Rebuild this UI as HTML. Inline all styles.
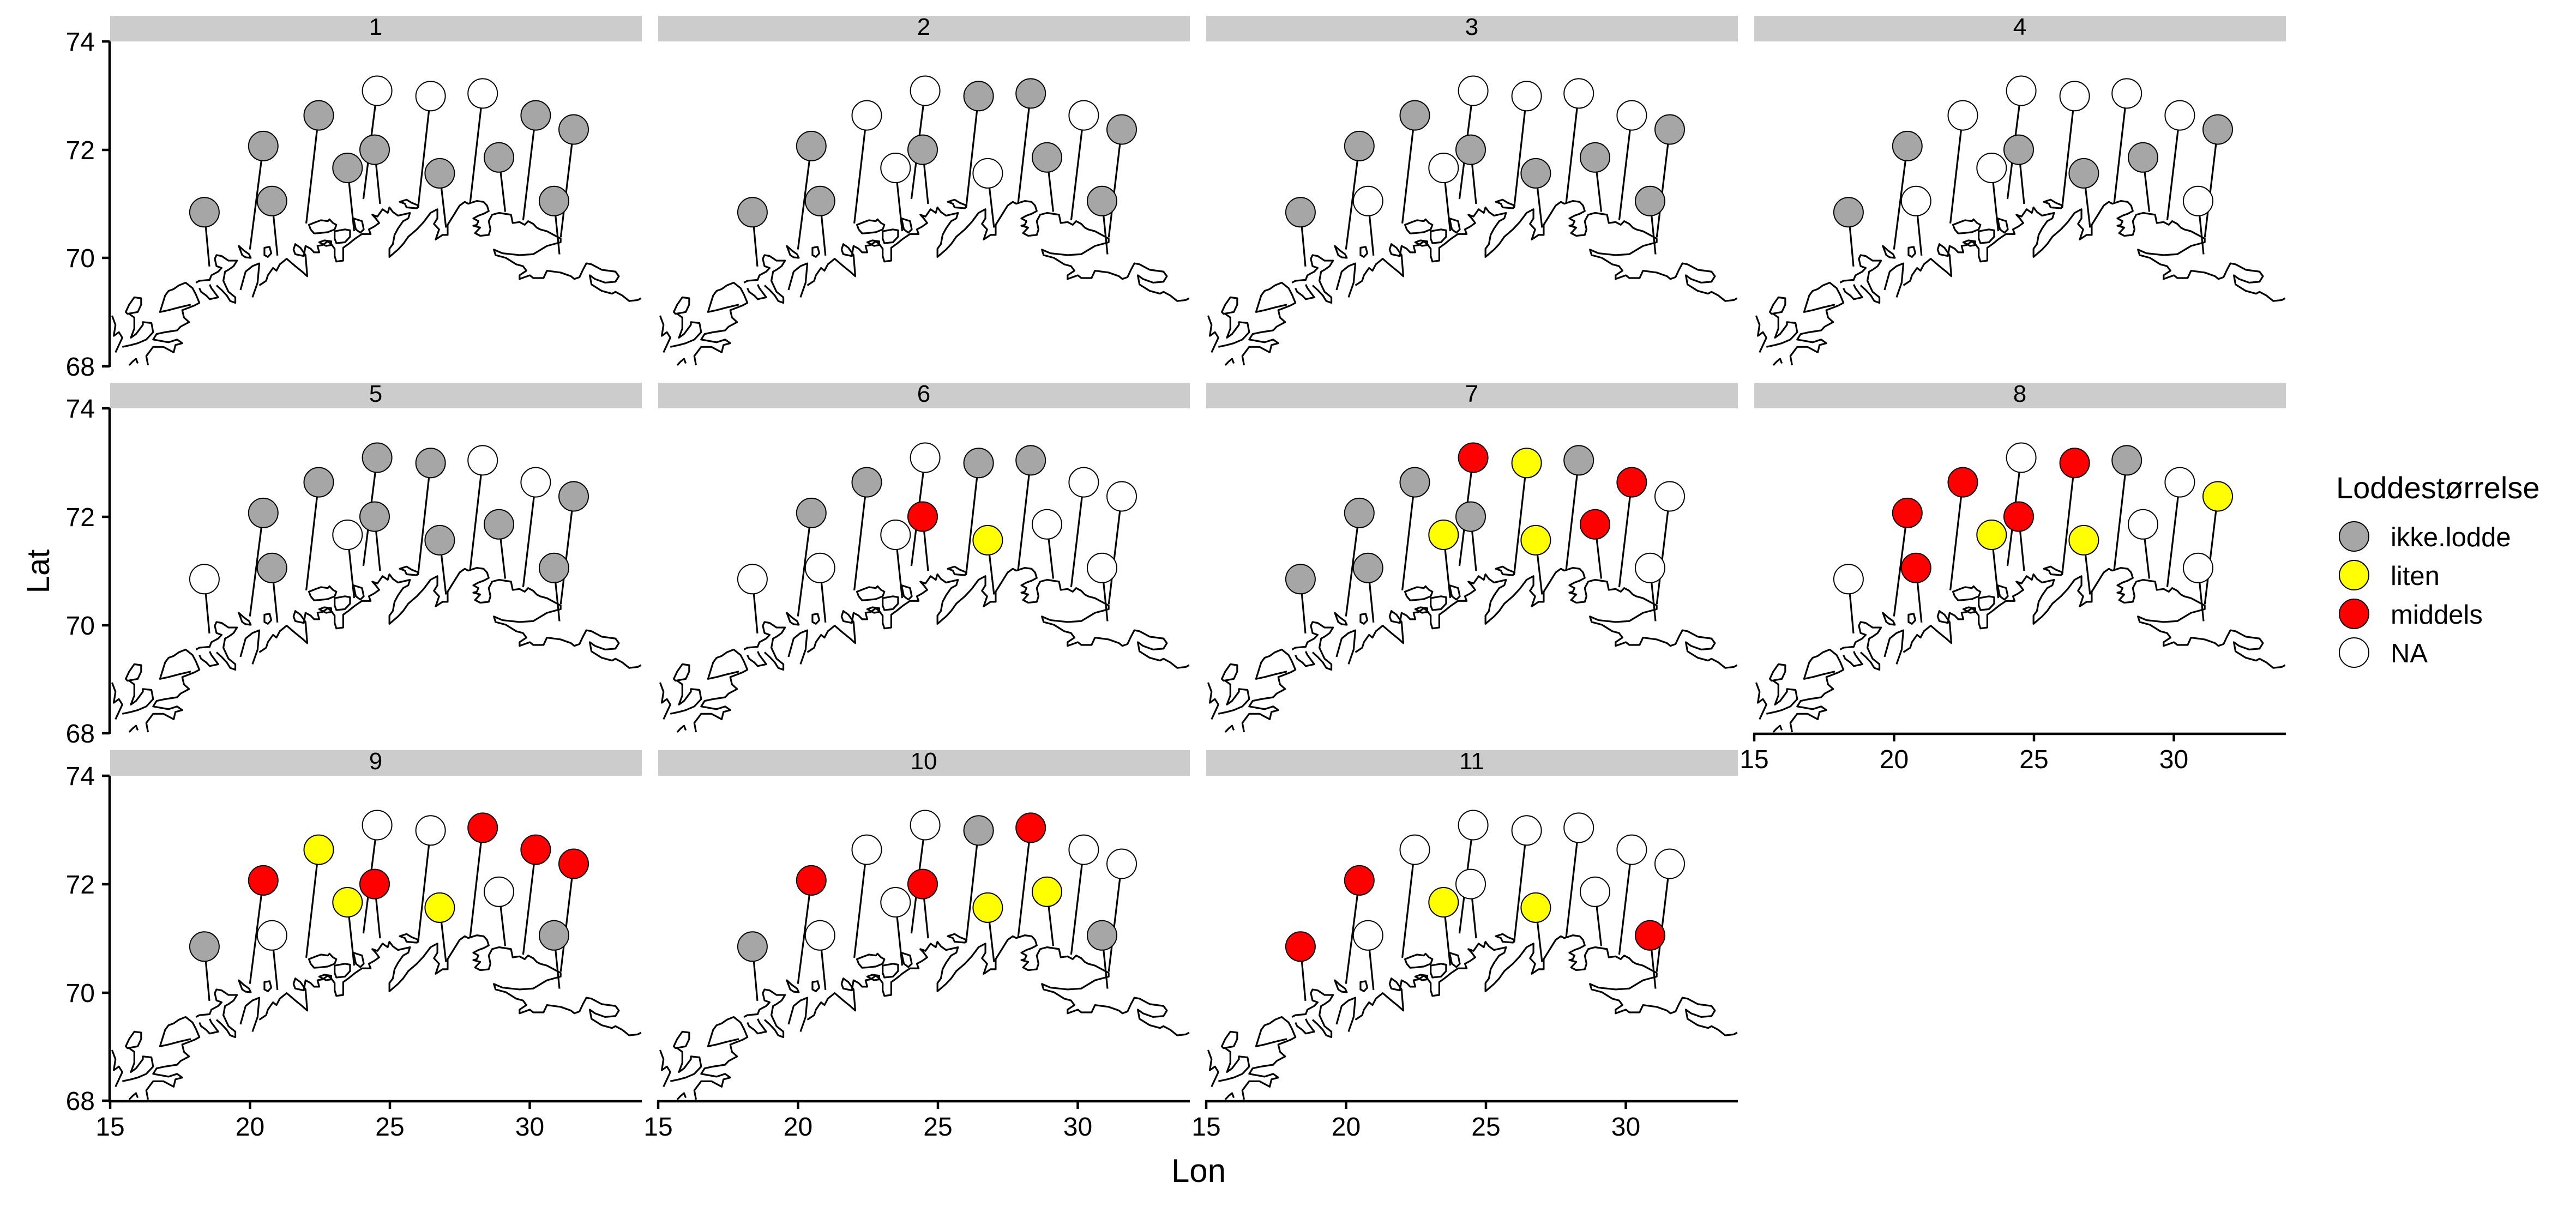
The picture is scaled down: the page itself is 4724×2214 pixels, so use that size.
<!DOCTYPE html>
<html><head><meta charset="utf-8"><style>
html,body{margin:0;padding:0;background:#fff;}
svg{display:block;font-family:"Liberation Sans",Arial,sans-serif;}
</style></head><body>
<svg width="4724" height="2214" viewBox="0 0 4724 2214" xmlns="http://www.w3.org/2000/svg">
<defs>
<clipPath id="pc"><rect x="0" y="0" width="975" height="597"/></clipPath>
<g id="coast" fill="none" stroke="#000" stroke-width="3.2" stroke-linejoin="round">
 <g transform="translate(-2.8,264) scale(0.628,0.3367)">
  <path vector-effect="non-scaling-stroke" d="M10,710 L20,760 L15,820 L30,800 L40,830 L20,910"/>
  <path vector-effect="non-scaling-stroke" d="M50,690 L60,650 L75,610 L95,615 L95,650 L85,690 L55,700 Z"/>
  <path vector-effect="non-scaling-stroke" d="M60,700 L75,720 L75,780 L65,830 L80,810 L100,760 L100,745 L125,750 L130,800 L110,840 L85,860 L65,870 L40,880"/>
  <path vector-effect="non-scaling-stroke" d="M115,980 L110,930 L130,880 L160,880 L190,910 L195,870 L215,860 L200,840 L175,855 L130,840 L140,810 L165,800 L200,790 L210,770 L235,745 L220,720 L215,680 L250,655 L265,640 L255,595 L245,560 L225,530 L205,545 L190,565 L175,575 L165,600 L160,630 L150,690 L175,680 L205,665 L240,650"/>
  <path vector-effect="non-scaling-stroke" d="M60,980 L70,960 L80,945 L85,970"/>
  <path vector-effect="non-scaling-stroke" d="M255,530 L265,520 L295,515 L300,490 L320,470 L330,450 L315,440 L310,400 L315,380 L330,385 L350,410 L375,410 L365,440 L350,460 L340,470 L335,520 L350,580 L370,610 L370,640 L355,630 L345,600 L330,570 L315,545"/>
  <path vector-effect="non-scaling-stroke" d="M265,560 L270,580 L285,600 L295,620 L320,610 L300,560 L295,540"/>
  <path vector-effect="non-scaling-stroke" d="M385,570 L400,470 L420,440 L440,425 L435,530 L420,610"/>
  <path vector-effect="non-scaling-stroke" d="M440,545 L460,520 L465,490 L480,450 L490,465 L500,430 L520,400 L545,440 L565,470 L580,495 L575,380 L560,340 L545,320 L540,350 L545,375 L570,385 L575,330 L590,345 L600,365 L615,365 L610,330 L625,325 L640,305 L650,320 L660,345 L660,385 L665,415 L685,410 L685,340 L700,320 L720,290 L740,265 L765,265 L760,240 L775,225 L790,205 L780,180 L770,160 L785,170 L800,130 L815,150 L820,120 L830,145 L845,165 L880,150 L875,180 L860,195 L845,235 L835,270 L830,320 L820,345 L820,390 L845,350 L860,320 L875,280 L900,240 L920,200 L940,150 L960,130 L960,180 L950,210 L965,240 L955,295 L975,270 L990,270 L990,215 L1005,170 L1025,110 L1040,90 L1050,100 L1075,85 L1095,90 L1105,110 L1110,140 L1095,155 L1080,165 L1065,180 L1080,195 L1075,215 L1065,220 L1085,230 L1070,260 L1085,275 L1110,270 L1115,240 L1110,195 L1120,160 L1140,150 L1175,160 L1180,205 L1200,200 L1215,215 L1225,195 L1240,210 L1250,230 L1260,240 L1280,250 L1300,270 L1320,290 L1320,310 L1280,330 L1240,375 L1200,380 L1150,370 L1125,350 L1130,380 L1160,395 L1190,430 L1210,440 L1220,465 L1200,490 L1200,510 L1230,490 L1240,505 L1270,505 L1280,465 L1320,475 L1350,495 L1360,510 L1375,500 L1385,460 L1395,425 L1410,430 L1440,460 L1480,470 L1490,495 L1480,525 L1450,530 L1420,510 L1405,490 L1410,540 L1440,575 L1470,590 L1480,580 L1500,600 L1520,630 L1545,625 L1555,615"/>
  <path vector-effect="non-scaling-stroke" d="M585,215 L605,200 L620,190 L640,195 L645,185 L655,205 L665,215 L660,240 L640,255 L615,260 L600,262 L590,240 Z"/>
  <path vector-effect="non-scaling-stroke" d="M660,250 L690,240 L705,245 L705,280 L690,310 L665,315 L660,290 Z"/>
  <path vector-effect="non-scaling-stroke" d="M615,310 L630,300 L650,305 L650,325 L635,330 Z"/>
  <path vector-effect="non-scaling-stroke" d="M380,330 L395,355 L410,375 L415,395 L400,392 L390,380 Z"/>
  <path vector-effect="non-scaling-stroke" d="M455,340 L470,335 L475,370 L465,390 L455,380 Z"/>
  <path vector-effect="non-scaling-stroke" d="M715,180 L740,195 L745,240 L735,258 L722,240 Z"/>
  <path vector-effect="non-scaling-stroke" d="M850,90 L870,78 L885,95 L905,110 L900,125 L870,120 L865,100 Z"/>
 </g>
</g>
<g id="sticks" stroke="#000" stroke-width="3.2">
 <line x1="172.9" y1="313.3" x2="182" y2="412.8"/>
 <line x1="280.8" y1="191.9" x2="256.3" y2="381.6"/>
 <line x1="296.8" y1="292.8" x2="306.8" y2="392.8"/>
 <line x1="382.5" y1="135.6" x2="359.6" y2="333.8"/>
 <line x1="435.3" y1="232" x2="447.5" y2="348.1"/>
 <line x1="489.6" y1="90.5" x2="464.4" y2="289.2"/>
 <line x1="485" y1="198.6" x2="495" y2="298.1"/>
 <line x1="587.6" y1="100.3" x2="564.6" y2="305.7"/>
 <line x1="604.4" y1="241.9" x2="615.9" y2="341.4"/>
 <line x1="683.2" y1="95.4" x2="660.2" y2="295.4"/>
 <line x1="713" y1="212.8" x2="724.5" y2="312.4"/>
 <line x1="780.4" y1="135.6" x2="757.4" y2="328"/>
 <line x1="814" y1="292.8" x2="824" y2="390.5"/>
 <line x1="850" y1="161.5" x2="826.3" y2="359.3"/>
</g>
</defs>

<g font-size="48" fill="#000">
<!-- Panels -->
<g id="panels"></g>
</g>

<!-- Panel generation inline -->
<g font-size="44" text-anchor="middle">
<!-- row/col placements -->
<!-- P1 -->
<g transform="translate(202,76)">
<rect x="0" y="-47" width="975" height="47" fill="#cccccc"/><text x="487" y="-12">1</text>
<g clip-path="url(#pc)"><use href="#coast"/></g><use href="#sticks"/>
<g stroke="#000" stroke-width="2">
<circle cx="172.9" cy="313.3" r="27" fill="#a6a6a6"/><circle cx="280.8" cy="191.9" r="27" fill="#a6a6a6"/><circle cx="296.8" cy="292.8" r="27" fill="#a6a6a6"/><circle cx="382.5" cy="135.6" r="27" fill="#a6a6a6"/><circle cx="435.3" cy="232" r="27" fill="#a6a6a6"/><circle cx="489.6" cy="90.5" r="27" fill="#fff"/><circle cx="485" cy="198.6" r="27" fill="#a6a6a6"/><circle cx="587.6" cy="100.3" r="27" fill="#fff"/><circle cx="604.4" cy="241.9" r="27" fill="#a6a6a6"/><circle cx="683.2" cy="95.4" r="27" fill="#fff"/><circle cx="713" cy="212.8" r="27" fill="#a6a6a6"/><circle cx="780.4" cy="135.6" r="27" fill="#a6a6a6"/><circle cx="814" cy="292.8" r="27" fill="#a6a6a6"/><circle cx="850" cy="161.5" r="27" fill="#a6a6a6"/>
</g></g>
<!-- P2 -->
<g transform="translate(1207,76)">
<rect x="0" y="-47" width="975" height="47" fill="#cccccc"/><text x="487" y="-12">2</text>
<g clip-path="url(#pc)"><use href="#coast"/></g><use href="#sticks"/>
<g stroke="#000" stroke-width="2">
<circle cx="172.9" cy="313.3" r="27" fill="#a6a6a6"/><circle cx="280.8" cy="191.9" r="27" fill="#a6a6a6"/><circle cx="296.8" cy="292.8" r="27" fill="#a6a6a6"/><circle cx="382.5" cy="135.6" r="27" fill="#fff"/><circle cx="435.3" cy="232" r="27" fill="#fff"/><circle cx="489.6" cy="90.5" r="27" fill="#fff"/><circle cx="485" cy="198.6" r="27" fill="#a6a6a6"/><circle cx="587.6" cy="100.3" r="27" fill="#a6a6a6"/><circle cx="604.4" cy="241.9" r="27" fill="#fff"/><circle cx="683.2" cy="95.4" r="27" fill="#a6a6a6"/><circle cx="713" cy="212.8" r="27" fill="#a6a6a6"/><circle cx="780.4" cy="135.6" r="27" fill="#fff"/><circle cx="814" cy="292.8" r="27" fill="#a6a6a6"/><circle cx="850" cy="161.5" r="27" fill="#a6a6a6"/>
</g></g>
<!-- P3 -->
<g transform="translate(2212,76)">
<rect x="0" y="-47" width="975" height="47" fill="#cccccc"/><text x="487" y="-12">3</text>
<g clip-path="url(#pc)"><use href="#coast"/></g><use href="#sticks"/>
<g stroke="#000" stroke-width="2">
<circle cx="172.9" cy="313.3" r="27" fill="#a6a6a6"/><circle cx="280.8" cy="191.9" r="27" fill="#a6a6a6"/><circle cx="296.8" cy="292.8" r="27" fill="#fff"/><circle cx="382.5" cy="135.6" r="27" fill="#a6a6a6"/><circle cx="435.3" cy="232" r="27" fill="#fff"/><circle cx="489.6" cy="90.5" r="27" fill="#fff"/><circle cx="485" cy="198.6" r="27" fill="#a6a6a6"/><circle cx="587.6" cy="100.3" r="27" fill="#fff"/><circle cx="604.4" cy="241.9" r="27" fill="#a6a6a6"/><circle cx="683.2" cy="95.4" r="27" fill="#fff"/><circle cx="713" cy="212.8" r="27" fill="#a6a6a6"/><circle cx="780.4" cy="135.6" r="27" fill="#fff"/><circle cx="814" cy="292.8" r="27" fill="#a6a6a6"/><circle cx="850" cy="161.5" r="27" fill="#a6a6a6"/>
</g></g>
<!-- P4 -->
<g transform="translate(3217,76)">
<rect x="0" y="-47" width="975" height="47" fill="#cccccc"/><text x="487" y="-12">4</text>
<g clip-path="url(#pc)"><use href="#coast"/></g><use href="#sticks"/>
<g stroke="#000" stroke-width="2">
<circle cx="172.9" cy="313.3" r="27" fill="#a6a6a6"/><circle cx="280.8" cy="191.9" r="27" fill="#a6a6a6"/><circle cx="296.8" cy="292.8" r="27" fill="#fff"/><circle cx="382.5" cy="135.6" r="27" fill="#fff"/><circle cx="435.3" cy="232" r="27" fill="#fff"/><circle cx="489.6" cy="90.5" r="27" fill="#fff"/><circle cx="485" cy="198.6" r="27" fill="#a6a6a6"/><circle cx="587.6" cy="100.3" r="27" fill="#fff"/><circle cx="604.4" cy="241.9" r="27" fill="#a6a6a6"/><circle cx="683.2" cy="95.4" r="27" fill="#fff"/><circle cx="713" cy="212.8" r="27" fill="#a6a6a6"/><circle cx="780.4" cy="135.6" r="27" fill="#fff"/><circle cx="814" cy="292.8" r="27" fill="#fff"/><circle cx="850" cy="161.5" r="27" fill="#a6a6a6"/>
</g></g>
<!-- P5 -->
<g transform="translate(202,749)">
<rect x="0" y="-47" width="975" height="47" fill="#cccccc"/><text x="487" y="-12">5</text>
<g clip-path="url(#pc)"><use href="#coast"/></g><use href="#sticks"/>
<g stroke="#000" stroke-width="2">
<circle cx="172.9" cy="313.3" r="27" fill="#fff"/><circle cx="280.8" cy="191.9" r="27" fill="#a6a6a6"/><circle cx="296.8" cy="292.8" r="27" fill="#a6a6a6"/><circle cx="382.5" cy="135.6" r="27" fill="#a6a6a6"/><circle cx="435.3" cy="232" r="27" fill="#fff"/><circle cx="489.6" cy="90.5" r="27" fill="#a6a6a6"/><circle cx="485" cy="198.6" r="27" fill="#a6a6a6"/><circle cx="587.6" cy="100.3" r="27" fill="#a6a6a6"/><circle cx="604.4" cy="241.9" r="27" fill="#a6a6a6"/><circle cx="683.2" cy="95.4" r="27" fill="#fff"/><circle cx="713" cy="212.8" r="27" fill="#a6a6a6"/><circle cx="780.4" cy="135.6" r="27" fill="#fff"/><circle cx="814" cy="292.8" r="27" fill="#a6a6a6"/><circle cx="850" cy="161.5" r="27" fill="#a6a6a6"/>
</g></g>
<!-- P6 -->
<g transform="translate(1207,749)">
<rect x="0" y="-47" width="975" height="47" fill="#cccccc"/><text x="487" y="-12">6</text>
<g clip-path="url(#pc)"><use href="#coast"/></g><use href="#sticks"/>
<g stroke="#000" stroke-width="2">
<circle cx="172.9" cy="313.3" r="27" fill="#fff"/><circle cx="280.8" cy="191.9" r="27" fill="#a6a6a6"/><circle cx="296.8" cy="292.8" r="27" fill="#fff"/><circle cx="382.5" cy="135.6" r="27" fill="#a6a6a6"/><circle cx="435.3" cy="232" r="27" fill="#fff"/><circle cx="489.6" cy="90.5" r="27" fill="#fff"/><circle cx="485" cy="198.6" r="27" fill="#ff0000"/><circle cx="587.6" cy="100.3" r="27" fill="#a6a6a6"/><circle cx="604.4" cy="241.9" r="27" fill="#ffff00"/><circle cx="683.2" cy="95.4" r="27" fill="#a6a6a6"/><circle cx="713" cy="212.8" r="27" fill="#fff"/><circle cx="780.4" cy="135.6" r="27" fill="#fff"/><circle cx="814" cy="292.8" r="27" fill="#fff"/><circle cx="850" cy="161.5" r="27" fill="#fff"/>
</g></g>
<!-- P7 -->
<g transform="translate(2212,749)">
<rect x="0" y="-47" width="975" height="47" fill="#cccccc"/><text x="487" y="-12">7</text>
<g clip-path="url(#pc)"><use href="#coast"/></g><use href="#sticks"/>
<g stroke="#000" stroke-width="2">
<circle cx="172.9" cy="313.3" r="27" fill="#a6a6a6"/><circle cx="280.8" cy="191.9" r="27" fill="#a6a6a6"/><circle cx="296.8" cy="292.8" r="27" fill="#a6a6a6"/><circle cx="382.5" cy="135.6" r="27" fill="#a6a6a6"/><circle cx="435.3" cy="232" r="27" fill="#ffff00"/><circle cx="489.6" cy="90.5" r="27" fill="#ff0000"/><circle cx="485" cy="198.6" r="27" fill="#a6a6a6"/><circle cx="587.6" cy="100.3" r="27" fill="#ffff00"/><circle cx="604.4" cy="241.9" r="27" fill="#ffff00"/><circle cx="683.2" cy="95.4" r="27" fill="#a6a6a6"/><circle cx="713" cy="212.8" r="27" fill="#ff0000"/><circle cx="780.4" cy="135.6" r="27" fill="#ff0000"/><circle cx="814" cy="292.8" r="27" fill="#fff"/><circle cx="850" cy="161.5" r="27" fill="#fff"/>
</g></g>
<!-- P8 -->
<g transform="translate(3217,749)">
<rect x="0" y="-47" width="975" height="47" fill="#cccccc"/><text x="487" y="-12">8</text>
<g clip-path="url(#pc)"><use href="#coast"/></g><use href="#sticks"/>
<g stroke="#000" stroke-width="2">
<circle cx="172.9" cy="313.3" r="27" fill="#fff"/><circle cx="280.8" cy="191.9" r="27" fill="#ff0000"/><circle cx="296.8" cy="292.8" r="27" fill="#ff0000"/><circle cx="382.5" cy="135.6" r="27" fill="#ff0000"/><circle cx="435.3" cy="232" r="27" fill="#ffff00"/><circle cx="489.6" cy="90.5" r="27" fill="#fff"/><circle cx="485" cy="198.6" r="27" fill="#ff0000"/><circle cx="587.6" cy="100.3" r="27" fill="#ff0000"/><circle cx="604.4" cy="241.9" r="27" fill="#ffff00"/><circle cx="683.2" cy="95.4" r="27" fill="#a6a6a6"/><circle cx="713" cy="212.8" r="27" fill="#fff"/><circle cx="780.4" cy="135.6" r="27" fill="#fff"/><circle cx="814" cy="292.8" r="27" fill="#fff"/><circle cx="850" cy="161.5" r="27" fill="#ffff00"/>
</g></g>
<!-- P9 -->
<g transform="translate(202,1423)">
<rect x="0" y="-47" width="975" height="47" fill="#cccccc"/><text x="487" y="-12">9</text>
<g clip-path="url(#pc)"><use href="#coast"/></g><use href="#sticks"/>
<g stroke="#000" stroke-width="2">
<circle cx="172.9" cy="313.3" r="27" fill="#a6a6a6"/><circle cx="280.8" cy="191.9" r="27" fill="#ff0000"/><circle cx="296.8" cy="292.8" r="27" fill="#fff"/><circle cx="382.5" cy="135.6" r="27" fill="#ffff00"/><circle cx="435.3" cy="232" r="27" fill="#ffff00"/><circle cx="489.6" cy="90.5" r="27" fill="#fff"/><circle cx="485" cy="198.6" r="27" fill="#ff0000"/><circle cx="587.6" cy="100.3" r="27" fill="#fff"/><circle cx="604.4" cy="241.9" r="27" fill="#ffff00"/><circle cx="683.2" cy="95.4" r="27" fill="#ff0000"/><circle cx="713" cy="212.8" r="27" fill="#fff"/><circle cx="780.4" cy="135.6" r="27" fill="#ff0000"/><circle cx="814" cy="292.8" r="27" fill="#a6a6a6"/><circle cx="850" cy="161.5" r="27" fill="#ff0000"/>
</g></g>
<!-- P10 -->
<g transform="translate(1207,1423)">
<rect x="0" y="-47" width="975" height="47" fill="#cccccc"/><text x="487" y="-12">10</text>
<g clip-path="url(#pc)"><use href="#coast"/></g><use href="#sticks"/>
<g stroke="#000" stroke-width="2">
<circle cx="172.9" cy="313.3" r="27" fill="#a6a6a6"/><circle cx="280.8" cy="191.9" r="27" fill="#ff0000"/><circle cx="296.8" cy="292.8" r="27" fill="#fff"/><circle cx="382.5" cy="135.6" r="27" fill="#fff"/><circle cx="435.3" cy="232" r="27" fill="#fff"/><circle cx="489.6" cy="90.5" r="27" fill="#fff"/><circle cx="485" cy="198.6" r="27" fill="#ff0000"/><circle cx="587.6" cy="100.3" r="27" fill="#a6a6a6"/><circle cx="604.4" cy="241.9" r="27" fill="#ffff00"/><circle cx="683.2" cy="95.4" r="27" fill="#ff0000"/><circle cx="713" cy="212.8" r="27" fill="#ffff00"/><circle cx="780.4" cy="135.6" r="27" fill="#fff"/><circle cx="814" cy="292.8" r="27" fill="#a6a6a6"/><circle cx="850" cy="161.5" r="27" fill="#fff"/>
</g></g>
<!-- P11 -->
<g transform="translate(2212,1423)">
<rect x="0" y="-47" width="975" height="47" fill="#cccccc"/><text x="487" y="-12">11</text>
<g clip-path="url(#pc)"><use href="#coast"/></g><use href="#sticks"/>
<g stroke="#000" stroke-width="2">
<circle cx="172.9" cy="313.3" r="27" fill="#ff0000"/><circle cx="280.8" cy="191.9" r="27" fill="#ff0000"/><circle cx="296.8" cy="292.8" r="27" fill="#fff"/><circle cx="382.5" cy="135.6" r="27" fill="#fff"/><circle cx="435.3" cy="232" r="27" fill="#ffff00"/><circle cx="489.6" cy="90.5" r="27" fill="#fff"/><circle cx="485" cy="198.6" r="27" fill="#fff"/><circle cx="587.6" cy="100.3" r="27" fill="#fff"/><circle cx="604.4" cy="241.9" r="27" fill="#ffff00"/><circle cx="683.2" cy="95.4" r="27" fill="#fff"/><circle cx="713" cy="212.8" r="27" fill="#fff"/><circle cx="780.4" cy="135.6" r="27" fill="#fff"/><circle cx="814" cy="292.8" r="27" fill="#ff0000"/><circle cx="850" cy="161.5" r="27" fill="#fff"/>
</g></g>
</g>

<!-- Y axes (left column) -->
<g stroke="#000" stroke-width="4.5" fill="none">
 <line x1="201" y1="76" x2="201" y2="673"/>
 <line x1="201" y1="749" x2="201" y2="1346"/>
 <line x1="201" y1="1423" x2="201" y2="2021"/>
 <!-- y ticks -->
 <path d="M187,76H201 M187,275H201 M187,473H201 M187,672H201"/>
 <path d="M187,749H201 M187,948H201 M187,1147H201 M187,1345H201"/>
 <path d="M187,1423H201 M187,1622H201 M187,1821H201 M187,2019H201"/>
 <!-- x axes -->
 <line x1="199" y1="2020" x2="1177" y2="2020"/>
 <line x1="1205" y1="2020" x2="2182" y2="2020"/>
 <line x1="2210" y1="2020" x2="3187" y2="2020"/>
 <line x1="3215" y1="1346" x2="4192" y2="1346"/>
 <path d="M202,2020V2034 M458.5,2020V2034 M715,2020V2034 M971.5,2020V2034"/>
 <path d="M1207,2020V2034 M1463.5,2020V2034 M1720,2020V2034 M1976.5,2020V2034"/>
 <path d="M2212,2020V2034 M2468.5,2020V2034 M2725,2020V2034 M2981.5,2020V2034"/>
 <path d="M3217,1346V1360 M3473.5,1346V1360 M3730,1346V1360 M3986.5,1346V1360"/>
</g>
<g font-size="48" fill="#000" text-anchor="end">
 <text x="174" y="93">74</text><text x="174" y="292">72</text><text x="174" y="490">70</text><text x="174" y="689">68</text>
 <text x="174" y="766">74</text><text x="174" y="965">72</text><text x="174" y="1164">70</text><text x="174" y="1362">68</text>
 <text x="174" y="1440">74</text><text x="174" y="1639">72</text><text x="174" y="1838">70</text><text x="174" y="2036">68</text>
</g>
<g font-size="48" fill="#000" text-anchor="middle">
 <text x="202" y="2083">15</text><text x="458.5" y="2083">20</text><text x="715" y="2083">25</text><text x="971.5" y="2083">30</text>
 <text x="1207" y="2083">15</text><text x="1463.5" y="2083">20</text><text x="1720" y="2083">25</text><text x="1976.5" y="2083">30</text>
 <text x="2212" y="2083">15</text><text x="2468.5" y="2083">20</text><text x="2725" y="2083">25</text><text x="2981.5" y="2083">30</text>
 <text x="3217" y="1409">15</text><text x="3473.5" y="1409">20</text><text x="3730" y="1409">25</text><text x="3986.5" y="1409">30</text>
</g>
<text x="2198" y="2168" font-size="60" text-anchor="middle">Lon</text>
<text transform="translate(90,1048) rotate(-90)" font-size="58" text-anchor="middle">Lat</text>

<!-- Legend -->
<text x="4284" y="914" font-size="56">Loddestørrelse</text>
<g stroke="#000" stroke-width="2">
 <circle cx="4317" cy="984" r="27" fill="#a6a6a6"/>
 <circle cx="4317" cy="1055" r="27" fill="#ffff00"/>
 <circle cx="4317" cy="1126" r="27" fill="#ff0000"/>
 <circle cx="4317" cy="1197" r="27" fill="#fff"/>
</g>
<g font-size="49">
 <text x="4384" y="1002">ikke.lodde</text>
 <text x="4384" y="1073">liten</text>
 <text x="4384" y="1144">middels</text>
 <text x="4384" y="1215">NA</text>
</g>
</svg>
</body></html>
